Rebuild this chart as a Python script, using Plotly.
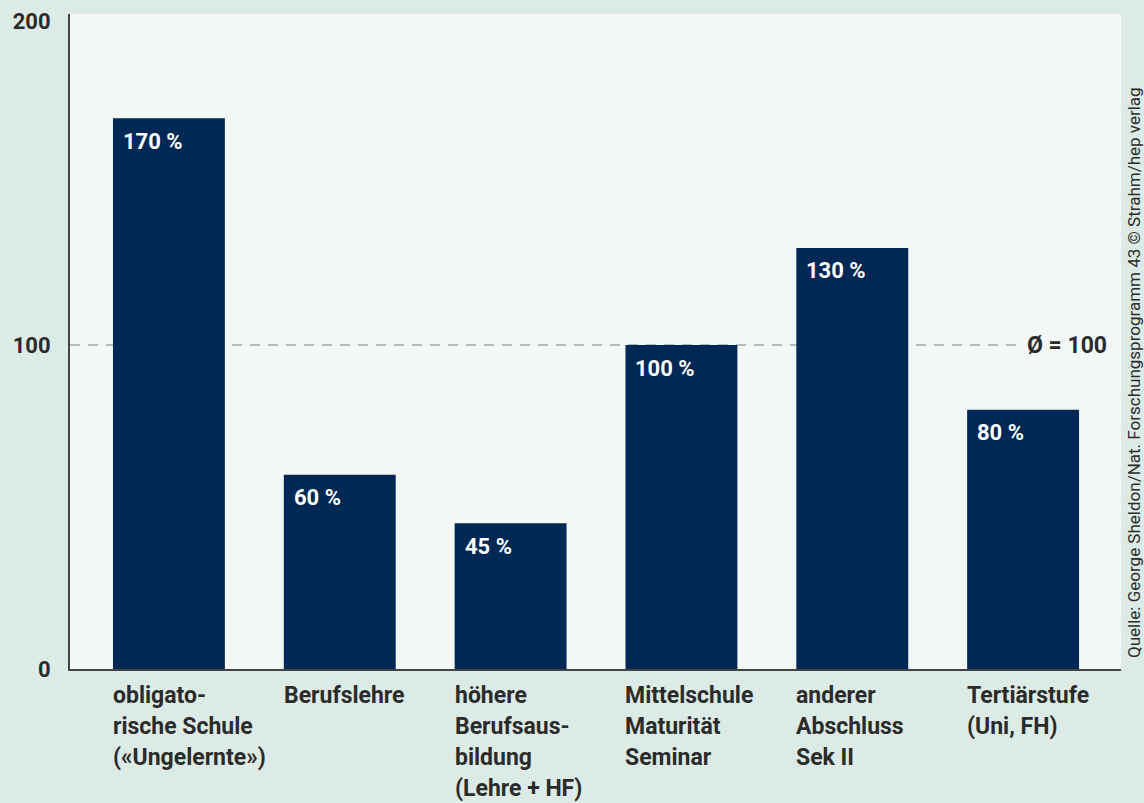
import plotly.graph_objects as go

categories = [
    ["obligato-", "rische Schule", "(«Ungelernte»)"],
    ["Berufslehre"],
    ["höhere", "Berufsaus-", "bildung", "(Lehre + HF)"],
    ["Mittelschule", "Maturität", "Seminar"],
    ["anderer", "Abschluss", "Sek II"],
    ["Tertiärstufe", "(Uni, FH)"],
]
values = [170, 60, 45, 100, 130, 80]
value_labels = ["170 %", "60 %", "45 %", "100 %", "130 %", "80 %"]
y_ticks = [0, 100, 200]
average = 100
average_label = "Ø = 100"
source = "Quelle: George Sheldon/Nat. Forschungsprogramm 43 © Strahm/hep verlag"

FONT = "Roboto, sans-serif"
BAR = "#002855"
BW = 0.655

xs = list(range(len(values)))
fig = go.Figure()
fig.add_trace(go.Bar(x=xs, y=values, width=BW, marker=dict(color=BAR, line=dict(width=0)),
                     hoverinfo="skip"))

ann = []
for i, (v, t) in enumerate(zip(values, value_labels)):
    ann.append(dict(x=i - BW / 2, y=v, xref="x", yref="y", text="<b>" + t + "</b>",
                    showarrow=False, xanchor="left", yanchor="middle", xshift=8, yshift=-23,
                    font=dict(family=FONT, size=22, color="white")))
for i, lines in enumerate(categories):
    for k, line in enumerate(lines):
        ann.append(dict(x=i - BW / 2, y=0, xref="x", yref="paper", text="<b>" + line + "</b>",
                        showarrow=False, xanchor="left", yanchor="middle", xshift=-2,
                        yshift=-(26 + 31 * k),
                        font=dict(family=FONT, size=23, color="#2b2b2b")))
ann.append(dict(x=1, y=average, xref="paper", yref="y", text="<b>" + average_label + "</b>",
                showarrow=False, xanchor="right", yanchor="middle", xshift=-12,
                font=dict(family=FONT, size=23, color="#2b2b2b")))
ann.append(dict(x=1, y=0, xref="paper", yref="paper", text=source, textangle=-90,
                showarrow=False, xanchor="center", yanchor="middle", xshift=13, yshift=296,
                font=dict(family=FONT, size=17, color="#2b2b2b")))

fig.update_layout(
    width=1144, height=803,
    margin=dict(l=70, r=23, t=14, b=134),
    paper_bgcolor="#dcebe6",
    plot_bgcolor="#f3f8f6",
    showlegend=False,
    annotations=ann,
    shapes=[dict(type="line", xref="paper", yref="y", x0=0, x1=0.903, y0=average, y1=average,
                 line=dict(color="#a5a5a5", width=1.5, dash="10px,8px"), layer="below")],
    xaxis=dict(range=[-0.579, 5.573], showticklabels=False, ticks="", showgrid=False,
               zeroline=False, showline=True, linecolor="#444444", linewidth=2,
               automargin=False, fixedrange=True),
    yaxis=dict(range=[0, 202.2], tickvals=y_ticks, ticktext=["<b>%d</b>" % t for t in y_ticks],
               showgrid=False, zeroline=False, showline=True, linecolor="#444444", linewidth=2,
               ticks="", ticklabelstandoff=13, automargin=False, fixedrange=True,
               tickfont=dict(family=FONT, size=22, color="#2b2b2b")),
)
fig.write_html("out.html", config={"displayModeBar": False},
               post_script="document.body.style.margin='0';document.body.style.overflow='hidden';document.body.style.background='#dcebe6';")
